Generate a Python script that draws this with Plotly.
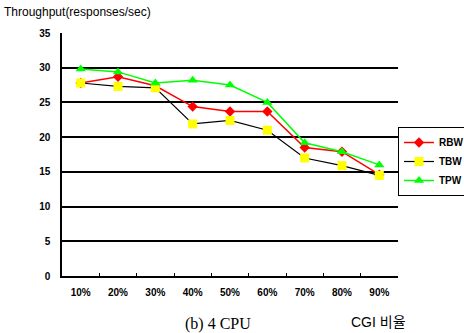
import plotly.graph_objects as go

# CGI ratio categories
categories = ["10%", "20%", "30%", "40%", "50%", "60%", "70%", "80%", "90%"]

# Throughput (responses/sec) per scheme
rbw = [27.8, 28.7, 27.4, 24.4, 23.7, 23.7, 18.5, 17.9, 14.6]
tbw = [27.8, 27.3, 27.1, 21.9, 22.4, 21.0, 17.0, 15.9, 14.5]
tpw = [29.8, 29.4, 27.8, 28.2, 27.5, 25.0, 19.2, 17.9, 16.0]

y_ticks = [0, 5, 10, 15, 20, 25, 30, 35]

FONT = "Liberation Sans, Arial, sans-serif"

fig = go.Figure()
fig.add_trace(go.Scatter(
    x=categories, y=rbw, name="RBW", mode="lines+markers",
    line=dict(color="#ff0000", width=1.5),
    marker=dict(symbol="diamond", size=8, color="#ff0000"),
))
fig.add_trace(go.Scatter(
    x=categories, y=tbw, name="TBW", mode="lines+markers",
    line=dict(color="#000000", width=1.2),
    marker=dict(symbol="square", size=9, color="#ffff00"),
))
fig.add_trace(go.Scatter(
    x=categories, y=tpw, name="TPW", mode="lines+markers",
    line=dict(color="#00ff00", width=1.5),
    marker=dict(symbol="triangle-up", size=9, color="#00ff00"),
))

fig.update_layout(
    width=464, height=333,
    margin=dict(l=62, r=66, t=33, b=57, autoexpand=False),
    paper_bgcolor="white", plot_bgcolor="white",
    font=dict(family=FONT, size=10, color="black"),
    showlegend=True,
    legend=dict(
        x=(398 - 62) / 336, y=(276 - 127) / 243, xanchor="left", yanchor="top",
        bordercolor="black", borderwidth=1, bgcolor="white",
        font=dict(family=FONT, size=10, color="black", weight="bold"),
        itemwidth=30, tracegroupgap=0,
    ),
    xaxis=dict(
        type="category", range=[-0.5, 8.5],
        showline=True, linecolor="black", linewidth=1.5,
        ticks="inside", tickson="boundaries", ticklen=3, tickwidth=1, tickcolor="black",
        tickfont=dict(family=FONT, size=10, weight="bold"),
        ticklabelstandoff=6,
        showgrid=False, zeroline=False,
    ),
    yaxis=dict(
        range=[0, 35], tickvals=y_ticks,
        showline=True, linecolor="black", linewidth=1.5,
        showgrid=True, gridcolor="black", gridwidth=1.5,
        ticks="", ticklabelstandoff=8,
        tickfont=dict(family=FONT, size=10, weight="bold"),
        zeroline=False,
    ),
    annotations=[
        dict(text="Throughput(responses/sec)", xref="paper", yref="paper",
             x=-60/336, y=1 + 21/243, xanchor="left", yanchor="middle",
             showarrow=False, font=dict(family=FONT, size=12, color="black")),
        dict(text="CGI 비율", xref="paper", yref="paper",
             x=(349-62)/336, y=-(322-276)/243, xanchor="left", yanchor="middle",
             showarrow=False,
             font=dict(family="Liberation Sans, Noto Sans CJK KR, sans-serif", size=14, color="black")),
        dict(text="(b) 4 CPU", xref="paper", yref="paper",
             x=(183-62)/336, y=-(313-276)/243, xanchor="left", yanchor="top",
             showarrow=False,
             font=dict(family="Liberation Serif, Times New Roman, serif", size=16, color="black")),
    ],
)

fig.write_html("out.html")
